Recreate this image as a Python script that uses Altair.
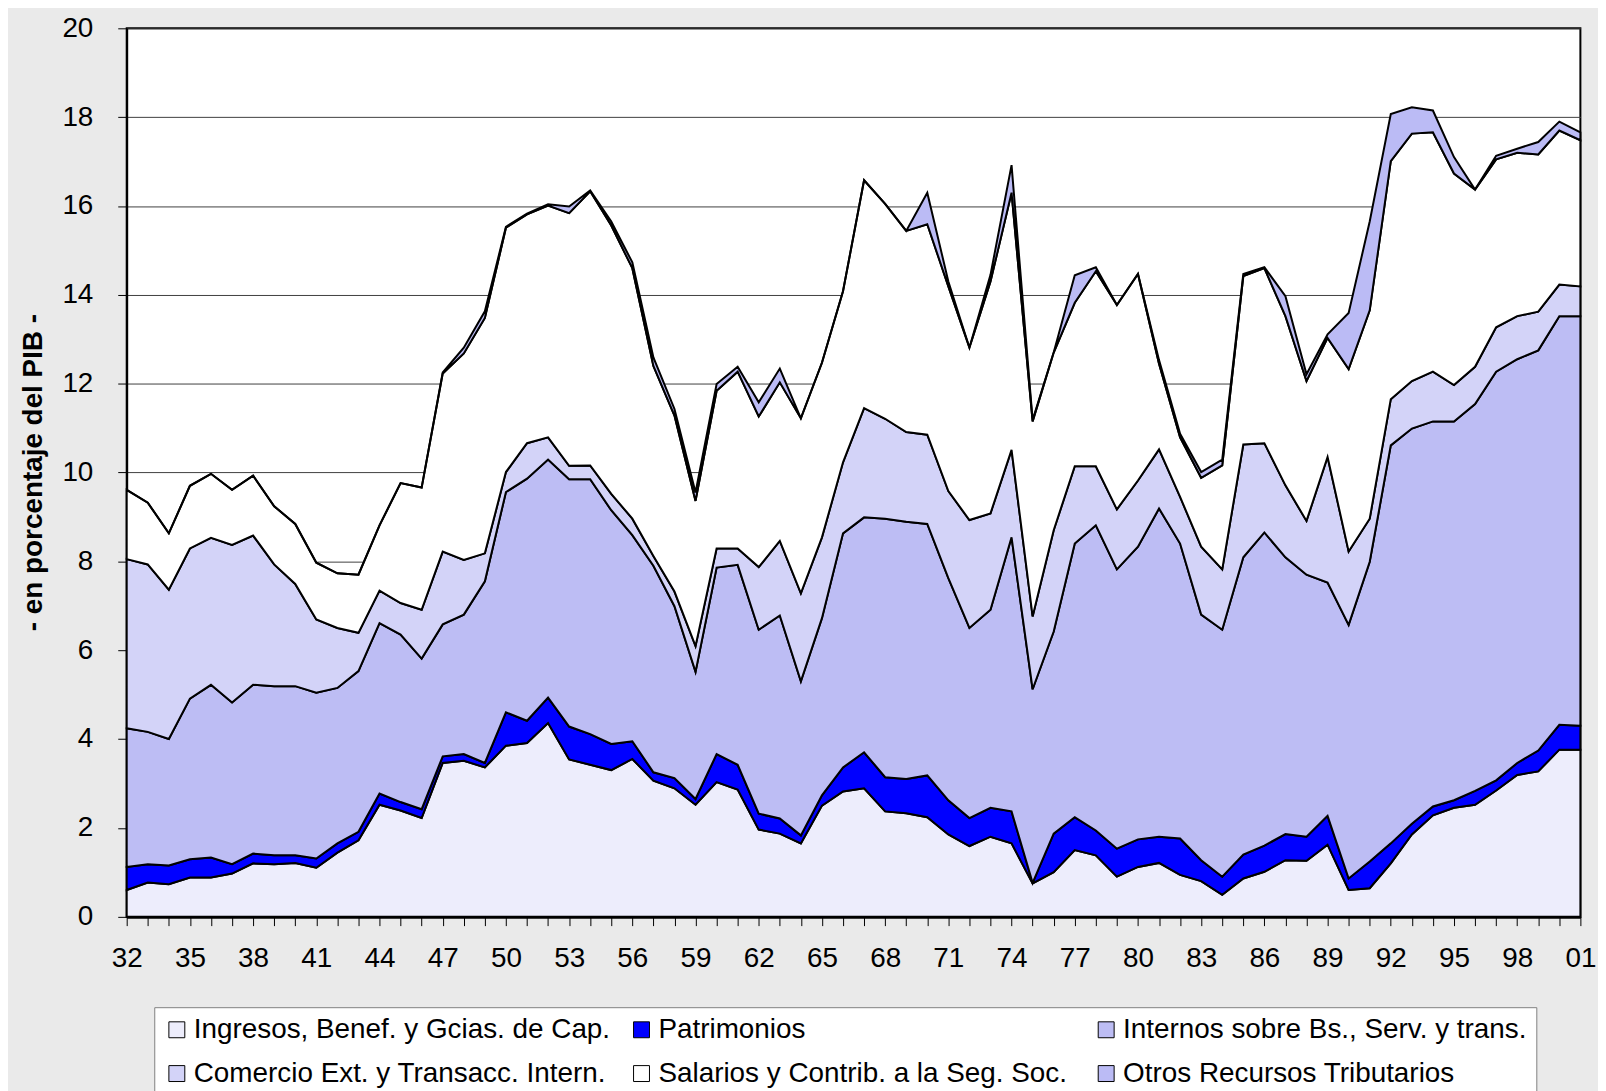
import altair as alt
import pandas as pd

years = list(range(1932, 2002))

series_names = [
    "Ingresos, Benef. y Gcias. de Cap.",
    "Patrimonios",
    "Internos sobre Bs., Serv. y trans.",
    "Comercio Ext. y Transacc. Intern.",
    "Salarios y Contrib. a la Seg. Soc.",
    "Otros Recursos Tributarios",
]
series_colors = ["#EDEDFC", "#0000FF", "#BDBDF4", "#D3D3F8", "#FFFFFF", "#BBBBF5"]

ingresos = [0.60, 0.77, 0.73, 0.88, 0.88, 0.97, 1.20, 1.18, 1.21, 1.10,
            1.44, 1.72, 2.52, 2.39, 2.22, 3.46, 3.51, 3.36, 3.85, 3.91,
            4.36, 3.54, 3.42, 3.30, 3.55, 3.06, 2.89, 2.52, 3.03, 2.86,
            1.96, 1.87, 1.65, 2.50, 2.82, 2.89, 2.37, 2.33, 2.24, 1.85,
            1.59, 1.80, 1.65, 0.75, 1.00, 1.50, 1.38, 0.90, 1.12, 1.21,
            0.94, 0.80, 0.49, 0.86, 1.01, 1.27, 1.26, 1.62, 0.60, 0.64,
            1.20, 1.85, 2.28, 2.45, 2.52, 2.84, 3.19, 3.27, 3.76, 3.76]

patrimonios = [0.52, 0.41, 0.42, 0.41, 0.45, 0.21, 0.22, 0.20, 0.17, 0.21,
               0.21, 0.19, 0.25, 0.19, 0.20, 0.15, 0.15, 0.10, 0.75, 0.50,
               0.57, 0.74, 0.69, 0.59, 0.40, 0.19, 0.23, 0.13, 0.63, 0.56,
               0.36, 0.34, 0.18, 0.23, 0.54, 0.81, 0.77, 0.77, 0.94, 0.77,
               0.63, 0.65, 0.72, 0.01, 0.87, 0.74, 0.56, 0.63, 0.62, 0.59,
               0.82, 0.47, 0.41, 0.54, 0.59, 0.59, 0.54, 0.65, 0.26, 0.60,
               0.45, 0.24, 0.20, 0.17, 0.31, 0.23, 0.27, 0.47, 0.56, 0.54]

internos = [3.12, 2.98, 2.85, 3.62, 3.89, 3.64, 3.80, 3.81, 3.81, 3.73,
            3.50, 3.62, 3.84, 3.77, 3.39, 2.97, 3.14, 4.09, 4.96, 5.45,
            5.36, 5.57, 5.74, 5.26, 4.64, 4.65, 3.87, 2.86, 4.20, 4.50,
            4.14, 4.57, 3.47, 3.99, 5.27, 5.29, 5.82, 5.79, 5.66, 5.00,
            4.28, 4.46, 6.17, 4.36, 4.55, 6.16, 6.87, 6.29, 6.59, 7.39,
            6.64, 5.53, 5.56, 6.69, 7.05, 6.23, 5.90, 5.25, 5.71, 6.75,
            8.96, 8.90, 8.67, 8.53, 8.71, 9.20, 9.09, 9.01, 9.20, 9.22]

comercio = [3.81, 3.77, 3.36, 3.38, 3.31, 3.55, 3.36, 2.74, 2.30, 1.65,
            1.35, 0.86, 0.73, 0.71, 1.10, 1.64, 1.23, 0.63, 0.45, 0.80,
            0.50, 0.30, 0.31, 0.37, 0.37, 0.22, 0.33, 0.58, 0.43, 0.37,
            1.41, 1.68, 1.98, 1.82, 1.60, 2.46, 2.25, 2.02, 2.01, 1.96,
            2.43, 2.17, 1.97, 1.64, 2.28, 1.74, 1.33, 1.35, 1.49, 1.33,
            1.05, 1.53, 1.36, 2.54, 2.01, 1.62, 1.21, 2.83, 1.65, 0.97,
            1.04, 1.07, 1.12, 0.82, 0.84, 1.00, 0.97, 0.87, 0.71, 0.67]

salarios = [1.56, 1.39, 1.27, 1.41, 1.44, 1.24, 1.35, 1.31, 1.35, 1.28,
            1.23, 1.31, 1.47, 2.70, 2.75, 4.01, 4.65, 5.30, 5.50, 5.15,
            5.22, 5.69, 6.17, 6.04, 5.64, 4.28, 3.96, 3.27, 3.55, 3.98,
            3.39, 3.57, 3.94, 3.93, 3.85, 5.13, 4.84, 4.53, 4.74, 4.61,
            3.88, 5.22, 5.79, 4.39, 4.00, 3.68, 4.39, 4.60, 4.65, 1.93,
            1.34, 1.55, 2.34, 3.79, 3.94, 3.81, 3.15, 2.68, 4.11, 4.69,
            5.36, 5.57, 5.39, 4.76, 3.99, 3.78, 3.68, 3.54, 3.47, 3.29]

otros = [0.00, 0.00, 0.00, 0.00, 0.00, 0.00, 0.00, 0.00, 0.00, 0.00,
         0.00, 0.00, 0.00, 0.00, 0.00, 0.02, 0.13, 0.15, 0.02, 0.02,
         0.03, 0.15, 0.02, 0.09, 0.13, 0.19, 0.15, 0.19, 0.15, 0.11,
         0.32, 0.31, 0.00, 0.00, 0.00, 0.00, 0.00, 0.00, 0.71, 0.11,
         0.00, 0.15, 0.62, 0.03, 0.00, 0.62, 0.09, 0.00, 0.00, 0.08,
         0.08, 0.13, 0.13, 0.05, 0.02, 0.45, 0.15, 0.08, 1.26, 2.00,
         1.06, 0.59, 0.49, 0.37, 0.00, 0.08, 0.09, 0.28, 0.20, 0.18]

y_ticks = [0, 2, 4, 6, 8, 10, 12, 14, 16, 18, 20]

all_series = [ingresos, patrimonios, internos, comercio, salarios, otros]
rows = []
for k, (name, vals) in enumerate(zip(series_names, all_series)):
    for yr, v in zip(years, vals):
        rows.append({"anio": yr, "valor": v, "serie": name, "orden": k})
df = pd.DataFrame(rows)

FONT = "Liberation Sans"

chart = alt.Chart(df).mark_area(
    stroke="black", strokeWidth=2, strokeJoin="miter", fillOpacity=1
).encode(
    x=alt.X(
        "anio:Q",
        title=None,
        scale=alt.Scale(domain=[1932, 2001], nice=False, zero=False),
        axis=alt.Axis(
            values=years,
            labelExpr="(datum.value - 1932) % 3 == 0 ? ((datum.value % 100) < 10 ? '0' + (datum.value % 100) : '' + (datum.value % 100)) : ''",
            tickSize=9, tickColor="black", tickWidth=1,
            domainColor="black", domainWidth=3,
            labelFontSize=28, labelFont=FONT, labelColor="black",
            labelPadding=19, labelOverlap=False, labelFlush=False,
            grid=False,
        ),
    ),
    y=alt.Y(
        "valor:Q",
        stack="zero",
        scale=alt.Scale(domain=[0, 20], nice=False),
        axis=alt.Axis(
            values=y_ticks, format="d",
            tickSize=9, tickColor="black", tickWidth=1,
            domainColor="black", domainWidth=2,
            grid=True, gridColor="#404040", gridWidth=1,
            labelFontSize=28, labelFont=FONT, labelColor="black",
            labelPadding=25,
            title="- en porcentaje del PIB -",
            titleFontSize=28, titleFont=FONT, titleFontWeight="bold",
            titleColor="black", titleAngle=270, titleX=-94, titleY=446,
            titleAlign="center", titleBaseline="middle",
        ),
    ),
    color=alt.Color(
        "serie:N",
        scale=alt.Scale(domain=series_names, range=series_colors),
        legend=alt.Legend(
            title=None, orient="none", legendX=27.7, legendY=983.8,
            direction="horizontal",
            columns=3, gridAlign="all", columnPadding=17, rowPadding=16,
            fillColor="white", strokeColor="#808080", padding=8.7,
            symbolType="square", symbolSize=256, symbolStrokeColor="black",
            symbolStrokeWidth=1, symbolOpacity=1,
            labelFontSize=28, labelFont=FONT, labelColor="black",
            labelLimit=1000, labelOffset=3,
        ),
    ),
    order=alt.Order("orden:Q", sort="ascending"),
).properties(
    width=1461, height=892.8,
    background="#EAEAEA",
    autosize=alt.AutoSizeParams(type="none"),
    padding={"left": 119.3, "top": 17.7, "right": 17.7, "bottom": 172.5},
).configure_view(
    fill="white", stroke="black", strokeWidth=2
)

chart.save("out.html", embed_options={"renderer": "svg", "actions": False})
